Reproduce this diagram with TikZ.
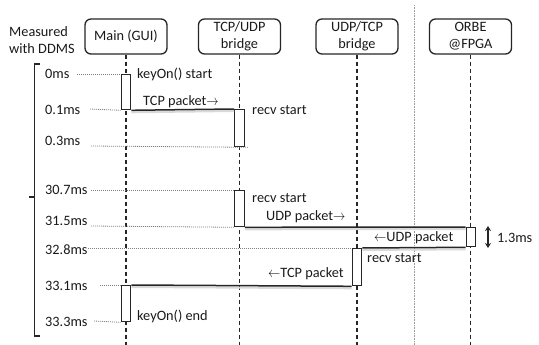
\documentclass[tikz,border=0pt]{standalone}
\usepackage{fontspec}
\setmainfont{Carlito}
\usetikzlibrary{arrows.meta}
\definecolor{ink}{HTML}{262626}
\definecolor{txt}{HTML}{1A1A1A}
\newcommand{\rarr}{\scalebox{0.85}[1]{$\rightarrow$}}
\newcommand{\larr}{\scalebox{0.85}[1]{$\leftarrow$}}
\begin{document}
\begin{tikzpicture}[x=1pt,y=-1pt,
  font=\fontsize{14.3}{17}\selectfont,
  head/.style={draw=ink, line width=1.3pt, rounded corners=6pt, minimum width=82pt,
    minimum height=35pt, align=center, inner sep=1pt, fill=white, text=txt},
  life/.style={draw=ink, line width=1.1pt, dash pattern=on 4pt off 3pt},
  act/.style={draw=ink, line width=1.3pt, fill=white, minimum width=9.5pt,
    inner sep=0pt, anchor=north},
  msg/.style={draw=ink, line width=1.5pt},
  msgshade/.style={draw=black!15, line width=2pt},
  tline/.style={draw=gray, line width=0.8pt, dash pattern=on 1pt off 1pt},
  lbl/.style={anchor=west, inner sep=0pt, text=txt}
]
\useasboundingbox (0,0) rectangle (539,345);

% separator between host side and FPGA side
\coordinate (sepTop) at (414,5);
\coordinate (sepBot) at (414,345);
\draw[draw=gray!80, line width=0.9pt, dash pattern=on 1pt off 0.6pt] (sepTop) -- (sepBot);

% participants
\node[head] (main) at (126,36.5) {Main (GUI)};
\node[head] (tu)   at (239.5,36.5) {TCP/UDP\\bridge};
\node[head] (ut)   at (357,36.5) {UDP/TCP\\bridge};
\node[head] (orbe) at (470.5,36.5) {ORBE\\@FPGA};

% lifelines
\coordinate (mainEnd) at (126,345);
\coordinate (tuEnd)   at (239.5,345);
\coordinate (utEnd)   at (357,345);
\coordinate (orbeEnd) at (470.5,345);
\draw[life] (main.south) -- (mainEnd);
\draw[life] (tu.south) -- (tuEnd);
\draw[life] (ut.south) -- (utEnd);
\draw[life] (orbe.south) -- (orbeEnd);

% bracket for the DDMS measurement
\node[lbl, align=left, anchor=west] (ddms) at (9,40) {Measured\\with DDMS};
\coordinate (brTop) at (40,64);
\coordinate (brBot) at (40,336);
\coordinate (brMid) at (29,197);
\draw[draw=ink, line width=1.8pt] (brTop) -- (34.5,64) -- (34.5,336) -- (brBot);
\draw[draw=ink, line width=1.8pt] (34.5,197) -- (brMid);

% time stamps
\node[lbl] (t0)  at (45,74)  {0ms};
\node[lbl] (t1)  at (45,110) {0.1ms};
\node[lbl] (t3)  at (45,141) {0.3ms};
\node[lbl] (t307) at (45,190) {30.7ms};
\node[lbl] (t315) at (45,221) {31.5ms};
\node[lbl] (t328) at (45,250) {32.8ms};
\node[lbl] (t331) at (45,286) {33.1ms};
\node[lbl] (t333) at (45,322) {33.3ms};

% activations
\node[act, minimum height=35pt] (a1) at (126,74) {};
\node[act, minimum height=37pt] (a2) at (239.5,109) {};
\node[act, minimum height=36pt] (a3) at (239.5,190) {};
\node[act, minimum height=19pt] (a4) at (471,227) {};
\node[act, minimum height=37pt] (a5) at (357,248) {};
\node[act, minimum height=36pt] (a6) at (126,285) {};

% time guide lines
\draw[tline] (77,74) -- (a1.north west);
\draw[tline] (90,109) -- (a1.south west);
\draw[tline] (91,146) -- ([xshift=4pt]a2.south east);
\draw[tline] (91,190) -- (a3.north west);
\draw[tline] (91,226) -- (a3.south west);
\draw[tline] (88,248) -- (a5.north west);
\draw[tline] (100,285) -- (a6.north west);
\draw[tline] (94,321) -- (a6.south west);

% messages
\draw[msgshade] ([yshift=-2pt]a1.south east) -- ([yshift=-2pt]a2.north west);
\draw[msg] (a1.south east) -- (a2.north west);
\draw[msgshade] ([yshift=-2pt]a3.south east) -- ([yshift=-2pt]a4.north west);
\draw[msg] (a3.south east) -- (a4.north west);
\draw[msgshade] ([yshift=-2pt]a4.south west) -- ([yshift=-2pt]a5.north east);
\draw[msg] (a4.south west) -- (a5.north east);
\draw[msgshade] ([yshift=-2pt]a5.south west) -- ([yshift=-2pt]a6.north east);
\draw[msg] (a5.south west) -- (a6.north east);

% labels
\node[lbl] (k1) at (137,74)  {keyOn() start};
\node[lbl] (p1) at (143,102) {TCP packet\rarr};
\node[lbl] (r1) at (252,110) {recv start};
\node[lbl] (r2) at (252,198) {recv start};
\node[lbl] (p2) at (266,217) {UDP packet\rarr};
\node[lbl] (p3) at (374,238) {\larr UDP packet};
\node[lbl] (r3) at (367,258) {recv start};
\node[lbl] (p4) at (268,274) {\larr TCP packet};
\node[lbl] (k2) at (137,316) {keyOn() end};

% round-trip span on the FPGA
\coordinate (spTop) at (488,226);
\coordinate (spBot) at (488,248);
\draw[draw=ink, line width=1.3pt, {Stealth[length=5pt,width=6pt]}-{Stealth[length=5pt,width=6pt]}] (spTop) -- (spBot);
\node[lbl] (span) at (497,238) {1.3ms};
\end{tikzpicture}
\end{document}
